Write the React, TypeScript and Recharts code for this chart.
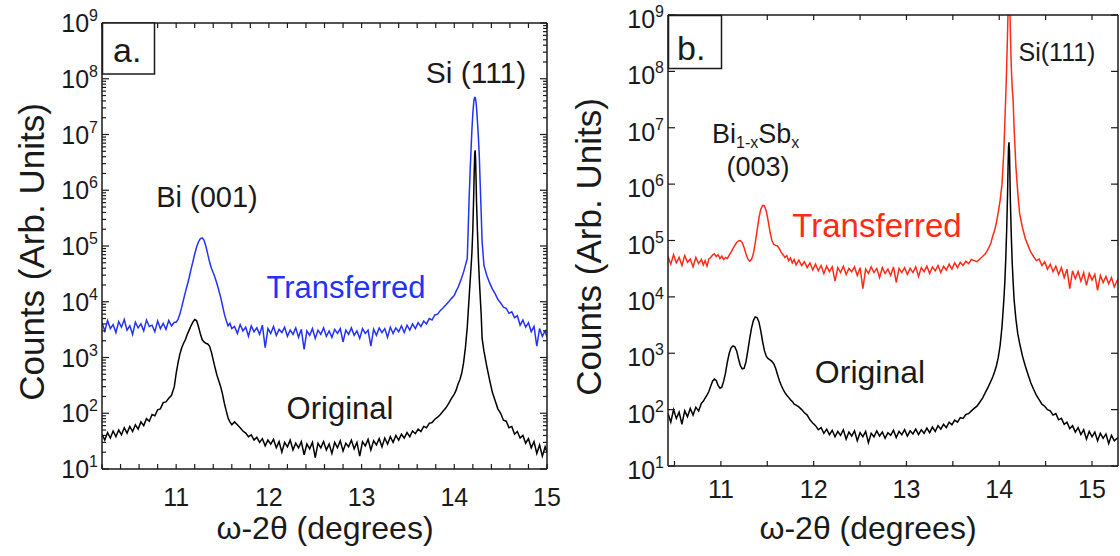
import React from "react";
import { LineChart, Line, XAxis, YAxis } from "recharts";

const FONT = "Arial, 'Liberation Sans', Helvetica, sans-serif";
const INK = "#1a1a1a";
const BLUE = "#2332f4";
const RED = "#ff2b17";

// ---- panel a: Bi on Si, omega-2theta (deg) vs counts ----
const angleA = [
  10.2, 10.23, 10.26, 10.29, 10.32, 10.35, 10.38, 10.41, 10.44, 10.47, 10.5, 10.53, 10.56, 10.59,
  10.62, 10.65, 10.68, 10.71, 10.74, 10.77, 10.8, 10.83, 10.86, 10.89, 10.92, 10.95, 10.98,
  11.0, 11.02, 11.04, 11.06, 11.08, 11.1, 11.12, 11.14, 11.16, 11.18, 11.2, 11.22, 11.24, 11.26,
  11.28, 11.3, 11.32, 11.34, 11.36, 11.38, 11.4, 11.42, 11.44, 11.46, 11.48, 11.5, 11.52, 11.54,
  11.56, 11.58, 11.6,
  11.63, 11.66, 11.69, 11.72, 11.75, 11.78, 11.81, 11.84, 11.87, 11.9, 11.93, 11.96, 11.99, 12.02,
  12.05, 12.08, 12.11, 12.14, 12.17, 12.2, 12.23, 12.26, 12.29, 12.32, 12.35, 12.38, 12.41, 12.44,
  12.47, 12.5, 12.53, 12.56, 12.59, 12.62, 12.65, 12.68, 12.71, 12.74, 12.77, 12.8, 12.83, 12.86,
  12.89, 12.92, 12.95, 12.98, 13.01, 13.04, 13.07, 13.1, 13.13, 13.16, 13.19, 13.22, 13.25, 13.28,
  13.31, 13.34, 13.37, 13.4, 13.43, 13.46, 13.49, 13.52, 13.55, 13.58, 13.61, 13.64, 13.67, 13.7,
  13.73, 13.76, 13.79, 13.82, 13.85, 13.88, 13.91, 13.94, 13.97,
  14.0, 14.02, 14.04, 14.06, 14.08, 14.1, 14.12, 14.14, 14.15, 14.16, 14.17, 14.18, 14.19, 14.2,
  14.21, 14.215, 14.22, 14.225, 14.23, 14.235, 14.24, 14.25, 14.26, 14.27, 14.28, 14.29, 14.3, 14.32,
  14.35, 14.38, 14.41, 14.44, 14.47, 14.5, 14.53, 14.56, 14.59, 14.62, 14.65, 14.68, 14.71, 14.74,
  14.77, 14.8, 14.83, 14.86, 14.89, 14.92, 14.95, 14.98, 15.0,
];
const transferredA = [
  4200, 3000, 4600, 3300, 3900, 2800, 4400, 3500, 4800, 3100, 3700, 2600, 4300, 3400,
  4000, 3000, 4700, 3600, 3800, 2900, 4500, 3300, 4100, 3200, 4600, 3700, 4300,
  4300, 4800, 6000, 8000, 11000, 15000, 20000, 27000, 38000, 52000, 72000, 95000, 118000, 135000,
  140000, 128000, 100000, 72000, 52000, 40000, 33000, 27000, 21000, 16000, 12000, 8500, 6000, 4600,
  3700, 4100, 3300,
  3600, 2700, 3900, 3000, 3500, 2400, 3700, 2900, 3400, 2600, 3800, 1500, 3300, 2700,
  3600, 2500, 3200, 2800, 3500, 2400, 3100, 2600, 3400, 2300, 3200, 1400, 3000, 2500,
  3300, 2200, 3100, 2600, 3400, 2400, 3000, 2300, 3200, 2700, 3300, 1900, 3100, 2600,
  3400, 2500, 3000, 2200, 3300, 2700, 3100, 1600, 3200, 2500, 3400, 2800, 3300, 2300,
  3500, 2700, 3400, 2900, 3700, 2800, 3800, 3100, 4000, 3300, 4200, 3600, 4500, 4000,
  5000, 4700, 5800, 6000, 7000, 7800, 8800, 10000, 11500,
  13000, 15500, 18000, 22000, 27000, 34000, 45000, 60000, 2e5, 7e5, 2e6, 5e6, 1.2e7, 2.4e7,
  3.8e7, 4.3e7, 4.6e7, 4.6e7, 4.3e7, 3.7e7, 3e7, 1.7e7, 9e6, 4e6, 1.2e6, 4e5, 1.2e5, 45000,
  30000, 22000, 17000, 14000, 11000, 9500, 8000, 7600, 6200, 6600, 5200, 5600, 3800, 4700,
  3500, 4200, 2900, 3600, 1600, 3300, 2400, 3000, 2300,
];
const originalA = [
  42, 33, 45, 36, 48, 38, 50, 41, 55, 44, 58, 47, 62, 52,
  70, 60, 80, 72, 95, 90, 115, 120, 155, 160, 185, 210, 300,
  520, 800, 1150, 1500, 1800, 2100, 2600, 3100, 3700, 4300, 4800, 4600, 3600, 2700,
  2100, 1900, 1800, 1750, 1600, 1250, 900, 650, 480, 380, 300, 220, 150, 110,
  82, 70, 62,
  70, 62, 55, 48, 44, 38, 41, 33, 37, 30, 35, 26, 33, 28,
  34, 24, 31, 20, 30, 25, 33, 22, 29, 24, 31, 18, 28, 23,
  30, 16, 29, 24, 31, 22, 28, 19, 30, 24, 32, 21, 29, 25,
  33, 23, 30, 17, 31, 26, 34, 22, 32, 27, 35, 25, 36, 28,
  38, 30, 40, 33, 42, 36, 45, 38, 48, 43, 52, 47, 58, 55,
  66, 68, 78, 85, 95, 110, 125, 150, 185,
  220, 260, 330, 400, 520, 800, 1500, 3500, 6500, 12000, 22000, 40000, 75000, 2e5,
  9e5, 2.2e6, 4.5e6, 5.2e6, 3.5e6, 1.5e6, 6e5, 1.8e5, 60000, 25000, 12000, 6000, 2200, 1300,
  700, 400, 240, 170, 120, 100, 75, 72, 55, 58, 42, 47, 36, 40,
  29, 35, 24, 31, 19, 27, 17, 25, 20,
];

// ---- panel b: Bi1-xSbx on Si ----
const angleB = [
  10.43, 10.46, 10.49, 10.52, 10.55, 10.58, 10.61, 10.64, 10.67, 10.7, 10.73, 10.76, 10.79,
  10.81, 10.83, 10.85, 10.87, 10.89, 10.91, 10.93, 10.95, 10.97, 10.99,
  11.01, 11.03, 11.05, 11.07, 11.09, 11.11, 11.13, 11.15, 11.17, 11.19,
  11.21, 11.23, 11.25, 11.27, 11.29, 11.31, 11.33, 11.35, 11.37, 11.39,
  11.41, 11.43, 11.45, 11.47, 11.49, 11.51, 11.53, 11.55, 11.57, 11.59,
  11.61, 11.63, 11.65, 11.67, 11.69, 11.71, 11.73, 11.75, 11.77, 11.79, 11.81,
  11.84, 11.87, 11.9, 11.93, 11.96, 11.99, 12.02, 12.05, 12.08, 12.11, 12.14, 12.17, 12.2, 12.23,
  12.26, 12.29, 12.32, 12.35, 12.38, 12.41, 12.44, 12.47, 12.5, 12.53, 12.56, 12.59, 12.62, 12.65,
  12.68, 12.71, 12.74, 12.77, 12.8, 12.83, 12.86, 12.89, 12.92, 12.95, 12.98, 13.01, 13.04, 13.07,
  13.1, 13.13, 13.16, 13.19, 13.22, 13.25, 13.28, 13.31, 13.34, 13.37, 13.4, 13.43, 13.46, 13.49,
  13.52, 13.55, 13.58, 13.61, 13.64, 13.67, 13.7, 13.73, 13.76, 13.79, 13.82, 13.85, 13.88, 13.91,
  13.93, 13.95, 13.97, 13.99, 14.01, 14.03, 14.05, 14.06, 14.07, 14.08, 14.09, 14.095, 14.1,
  14.105, 14.11, 14.115, 14.12, 14.13, 14.14, 14.15, 14.16, 14.18, 14.2, 14.22, 14.25,
  14.28, 14.31, 14.34, 14.37, 14.4, 14.43, 14.46, 14.49, 14.52, 14.55, 14.58, 14.61, 14.64, 14.67,
  14.7, 14.73, 14.76, 14.79, 14.82, 14.85, 14.88, 14.91, 14.94, 14.97, 15.0, 15.03, 15.06, 15.09,
  15.12, 15.15, 15.18, 15.21, 15.24, 15.28,
];
const transferredB = [
  52000, 38000, 56000, 40000, 50000, 36000, 54000, 41000, 47000, 34000, 50000, 39000, 46000,
  37000, 44000, 35000, 47000, 50000, 55000, 58000, 52000, 56000, 48000,
  53000, 46000, 50000, 48000, 55000, 62000, 72000, 82000, 92000, 98000,
  100000, 92000, 75000, 58000, 47000, 43000, 46000, 58000, 90000, 150000,
  250000, 360000, 420000, 410000, 330000, 220000, 140000, 100000, 85000, 82000,
  80000, 72000, 62000, 56000, 50000, 54000, 44000, 49000, 40000, 46000, 37000,
  45000, 36000, 42000, 33000, 40000, 30000, 38000, 29000, 36000, 26000, 35000, 28000, 34000, 19000,
  33000, 27000, 35000, 25000, 32000, 28000, 34000, 24000, 33000, 14000, 31000, 26000, 34000, 27000,
  32000, 22000, 33000, 26000, 31000, 24000, 34000, 18000, 32000, 27000, 33000, 25000, 32000, 27000,
  34000, 23000, 33000, 28000, 35000, 26000, 34000, 29000, 36000, 27000, 35000, 30000, 38000, 31000,
  40000, 33000, 41000, 36000, 43000, 39000, 46000, 44000, 42000, 47000, 52000, 58000, 70000, 90000,
  1.2e5, 1.5e5, 2.1e5, 3.2e5, 5.2e5, 1e6, 4e6, 1.2e7, 3.5e7, 1.2e8, 5e8, 1.2e9, 3e9,
  4e9, 3e9, 1.2e9, 5e8, 1.2e8, 5e7, 3e7, 1e7, 2e6, 7e5, 3e5, 1.7e5,
  110000, 82000, 62000, 52000, 44000, 47000, 36000, 42000, 31000, 38000, 28000, 35000, 25000, 33000,
  22000, 31000, 14000, 29000, 21000, 28000, 19000, 27000, 16000, 26000, 20000, 25000, 13000, 24000,
  18000, 23000, 17000, 22000, 15000, 21000,
];
const originalB = [
  85, 60, 100, 70, 90, 55, 95, 75, 105, 80, 110, 95, 130,
  140, 160, 180, 210, 260, 320, 350, 330, 270, 240,
  250, 320, 450, 700, 1000, 1250, 1350, 1300, 1100, 800,
  600, 530, 540, 700, 1100, 1800, 2800, 3800, 4400, 4300,
  3600, 2500, 1600, 1100, 880, 800, 760, 720, 650, 540,
  420, 330, 270, 230, 200, 180, 165, 150, 140, 125, 120,
  112, 100, 88, 80, 66, 58, 52, 44, 48, 38, 45, 36, 43, 33,
  41, 35, 44, 30, 40, 34, 42, 28, 39, 33, 41, 26, 38, 33,
  42, 34, 40, 31, 39, 35, 43, 32, 41, 36, 44, 34, 42, 37,
  45, 36, 44, 38, 47, 39, 49, 41, 52, 45, 55, 48, 60, 54,
  65, 60, 72, 70, 82, 85, 95, 105, 115, 135, 160, 200, 250, 320,
  380, 470, 600, 850, 1400, 3000, 9000, 18000, 45000, 1.5e5, 7e5, 2e6, 4.5e6,
  5.5e6, 4e6, 1.5e6, 5e5, 1.2e5, 40000, 18000, 9000, 4000, 2200, 1500, 900,
  600, 420, 300, 230, 180, 150, 125, 115, 100, 95, 80, 85, 66, 70,
  55, 60, 46, 52, 40, 48, 36, 44, 30, 41, 33, 40, 28, 38,
  31, 37, 25, 35, 28, 32,
];

// ---- axes ----
const decades = [1e1, 1e2, 1e3, 1e4, 1e5, 1e6, 1e7, 1e8, 1e9];
const minorSteps = [2, 3, 4, 5, 6, 7, 8, 9];
const yTicksA = [
  ...decades,
  ...decades.slice(0, -1).flatMap((d) => minorSteps.map((m) => d * m)),
].sort((a, b) => a - b);
const yTicksB = decades;
const xTicksA = [
  10.2, 10.4, 10.6, 10.8, 11, 11.2, 11.4, 11.6, 11.8, 12, 12.2, 12.4, 12.6, 12.8, 13, 13.2, 13.4,
  13.6, 13.8, 14, 14.2, 14.4, 14.6, 14.8, 15,
];
const xTicksB = [10.5, 11, 11.5, 12, 12.5, 13, 13.5, 14, 14.5, 15];

const dataA = angleA.map((x, i) => ({ x, transferred: transferredA[i], original: originalA[i] }));
const dataB = angleB.map((x, i) => ({ x, transferred: transferredB[i], original: originalB[i] }));

// ticks point inward; labels only on decades / whole degrees
const makeYTick = (side: "left" | "right", labels: boolean, labelDy = 0) => (p: any) => {
  const v = Number(p.payload.value);
  const e = Math.round(Math.log10(v));
  const major = Math.abs(Math.log10(v) - e) < 1e-6;
  const dir = side === "left" ? 1 : -1;
  const len = major ? 7 : 4;
  return (
    <g>
      <line x1={p.x} y1={p.y} x2={p.x + dir * len} y2={p.y} stroke={INK} strokeWidth={1.2} />
      {labels && major && (
        <text x={p.x - 4} y={p.y + 9 + labelDy} textAnchor="end" fontFamily={FONT} fontSize={25} fill={INK}>
          10
          <tspan dy={-11} fontSize={16}>
            {e}
          </tspan>
        </text>
      )}
    </g>
  );
};

const makeXTick = (side: "top" | "bottom", labelDy = 0) => (p: any) => {
  const v = Number(p.payload.value);
  const dir = side === "bottom" ? -1 : 1;
  const isInt = Math.abs(v - Math.round(v)) < 1e-6;
  return (
    <g>
      <line x1={p.x} y1={p.y} x2={p.x} y2={p.y + dir * 5} stroke={INK} strokeWidth={1.2} />
      {side === "bottom" && isInt && (
        <text x={p.x} y={p.y + labelDy} textAnchor="middle" fontFamily={FONT} fontSize={25} fill={INK}>
          {Math.round(v)}
        </text>
      )}
    </g>
  );
};

const axisLine = { stroke: INK, strokeWidth: 1.5 };

function Panel({
  data,
  domain,
  xTicks,
  yTicks,
  color,
  margin,
  width,
  xLabelDy,
  yLabelDy,
}: {
  data: any[];
  domain: [number, number];
  xTicks: number[];
  yTicks: number[];
  color: string;
  margin: { top: number; right: number; bottom: number; left: number };
  width: number;
  xLabelDy: number;
  yLabelDy: number;
}) {
  // each axis is 1px thick so recharts draws it; margins are reduced by that pixel
  const m = { top: margin.top - 1, right: margin.right - 1, bottom: margin.bottom - 1, left: margin.left - 1 };
  return (
    <LineChart width={width} height={556} data={data} margin={m}>
      <XAxis
        xAxisId="bottom"
        dataKey="x"
        type="number"
        domain={domain}
        allowDataOverflow
        ticks={xTicks}
        interval={0}
        height={1}
        tickSize={0}
        tickMargin={0}
        tickLine={false}
        axisLine={axisLine}
        tick={makeXTick("bottom", xLabelDy)}
      />
      <XAxis
        xAxisId="top"
        orientation="top"
        dataKey="x"
        type="number"
        domain={domain}
        allowDataOverflow
        ticks={xTicks}
        interval={0}
        height={1}
        tickSize={0}
        tickMargin={0}
        tickLine={false}
        axisLine={axisLine}
        tick={makeXTick("top")}
      />
      <YAxis
        yAxisId="left"
        type="number"
        scale="log"
        domain={[10, 1e9]}
        allowDataOverflow
        ticks={yTicks}
        interval={0}
        width={1}
        tickSize={0}
        tickMargin={0}
        tickLine={false}
        axisLine={axisLine}
        tick={makeYTick("left", true, yLabelDy)}
      />
      <YAxis
        yAxisId="right"
        orientation="right"
        type="number"
        scale="log"
        domain={[10, 1e9]}
        allowDataOverflow
        ticks={yTicks}
        interval={0}
        width={1}
        tickSize={0}
        tickMargin={0}
        tickLine={false}
        axisLine={axisLine}
        tick={makeYTick("right", false)}
      />
      <Line
        xAxisId="bottom"
        yAxisId="left"
        dataKey="transferred"
        type="linear"
        stroke={color}
        strokeWidth={1.5}
        dot={false}
        isAnimationActive={false}
      />
      <Line
        xAxisId="bottom"
        yAxisId="left"
        dataKey="original"
        type="linear"
        stroke="#000"
        strokeWidth={1.5}
        dot={false}
        isAnimationActive={false}
      />
    </LineChart>
  );
}

const txt = { fontFamily: FONT, fill: INK } as const;

function Annotations() {
  return (
    <svg width={1120} height={556} style={{ position: "absolute", left: 0, top: 0, pointerEvents: "none" }}>
      {/* panel a */}
      <rect x={102.5} y={23} width={52} height={51} fill="#fff" stroke={INK} strokeWidth={1.5} />
      <text x={113} y={62} fontSize={34} {...txt}>a.</text>
      <text x={207} y={207} fontSize={29} textAnchor="middle" {...txt}>Bi (001)</text>
      <text x={476} y={83} fontSize={30} textAnchor="middle" {...txt}>Si (111)</text>
      <text x={346} y={298} fontSize={31} textAnchor="middle" fontFamily={FONT} fill={BLUE}>Transferred</text>
      <text x={340} y={419} fontSize={31} textAnchor="middle" {...txt}>Original</text>
      <text x={31} y={252} fontSize={35} textAnchor="middle" dominantBaseline="central"
        transform="rotate(-90 31 252)" {...txt}>Counts (Arb. Units)</text>
      <text x={325} y={539} fontSize={32} textAnchor="middle" {...txt}>ω-2θ (degrees)</text>

      {/* panel b */}
      <rect x={668.5} y={15.5} width={53} height={53} fill="#fff" stroke={INK} strokeWidth={1.5} />
      <text x={677} y={60} fontSize={34} {...txt}>b.</text>
      <text x={712} y={143} fontSize={27} {...txt}>
        Bi<tspan fontSize={16} dy={5}>1-x</tspan>
        <tspan dy={-5}>Sb</tspan>
        <tspan fontSize={16} dy={5}>x</tspan>
      </text>
      <text x={758} y={176} fontSize={27} textAnchor="middle" {...txt}>(003)</text>
      <text x={1057} y={61} fontSize={25} textAnchor="middle" {...txt}>Si(111)</text>
      <text x={877} y={237} fontSize={33} textAnchor="middle" fontFamily={FONT} fill={RED}>Transferred</text>
      <text x={870} y={383} fontSize={32} textAnchor="middle" {...txt}>Original</text>
      <text x={588} y={247} fontSize={35} textAnchor="middle" dominantBaseline="central"
        transform="rotate(-90 588 247)" {...txt}>Counts (Arb. Units)</text>
      <text x={868} y={539} fontSize={32} textAnchor="middle" {...txt}>ω-2θ (degrees)</text>
    </svg>
  );
}

export default function App() {
  return (
    <div style={{ position: "absolute", left: 0, top: 0, width: 1120, height: 556, background: "#fff" }}>
      <div style={{ position: "absolute", left: 0, top: 0 }}>
        <Panel
          data={dataA}
          domain={[10.2, 15]}
          xTicks={xTicksA}
          yTicks={yTicksA}
          color={BLUE}
          width={580}
          margin={{ top: 23, right: 33, bottom: 87, left: 102 }}
          xLabelDy={37}
          yLabelDy={0}
        />
      </div>
      <div style={{ position: "absolute", left: 560, top: 0 }}>
        <Panel
          data={dataB}
          domain={[10.43, 15.28]}
          xTicks={xTicksB}
          yTicks={yTicksB}
          color={RED}
          width={560}
          margin={{ top: 15, right: 2, bottom: 90, left: 108 }}
          xLabelDy={32}
          yLabelDy={4}
        />
      </div>
      <Annotations />
    </div>
  );
}
